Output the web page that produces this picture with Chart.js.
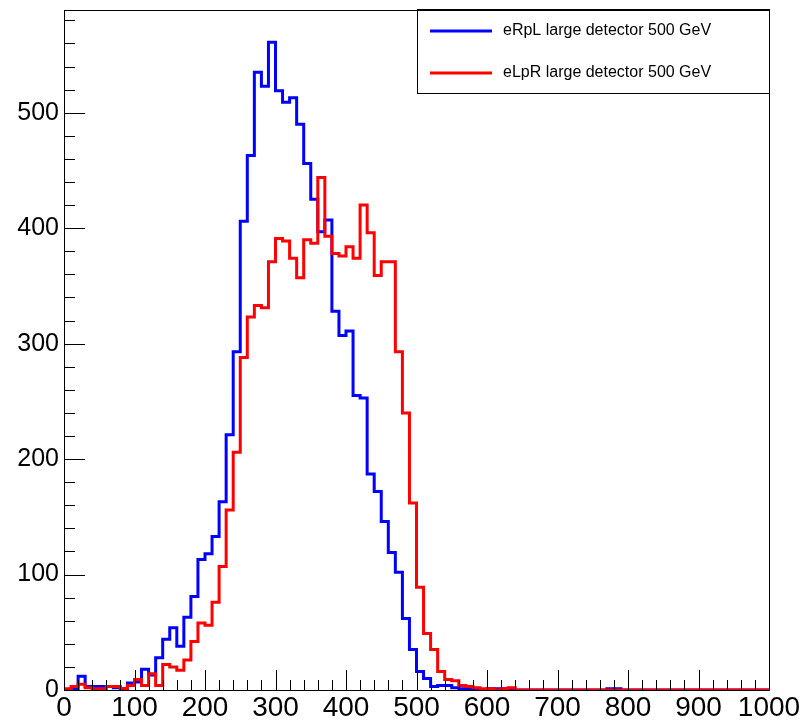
<!DOCTYPE html>
<html>
<head>
<meta charset="utf-8">
<script src="https://cdn.jsdelivr.net/npm/chart.js@4/dist/chart.umd.min.js"></script>
<style>
  html, body { margin: 0; padding: 0; background: #fff; }
</style>
</head>
<body>
<canvas id="chart" width="802" height="723"></canvas>
<script>
// histogram: 100 bins of width 10 from 0 to 1000
const binWidth = 10;
const seriesLabels = ["eRpL large detector 500 GeV", "eLpR large detector 500 GeV"];
const eRpL = [
	0, 1, 12, 3, 3, 3, 3, 2, 1, 6,
	7, 18, 13, 28, 44, 54, 38, 63, 81, 113,
	118, 133, 163, 221, 293, 406, 463, 535, 523, 561,
	519, 509, 513, 490, 456, 425, 397, 407, 328, 307,
	311, 255, 253, 187, 172, 146, 119, 102, 62, 35,
	16, 10, 3, 4, 4, 2, 1, 1, 0, 0,
	1, 1, 1, 0, 0, 0, 0, 0, 0, 0,
	0, 0, 0, 0, 0, 0, 0, 1, 1, 0,
	0, 0, 0, 0, 0, 0, 0, 0, 0, 0,
	0, 0, 0, 0, 0, 0, 0, 0, 0, 0
];
const eLpR = [
	1, 3, 5, 2, 1, 1, 3, 3, 1, 4,
	9, 4, 14, 4, 22, 20, 17, 26, 42, 58,
	56, 76, 107, 156, 206, 288, 323, 333, 331, 371,
	391, 389, 374, 357, 390, 387, 444, 393, 378, 376,
	384, 374, 420, 396, 359, 371, 371, 293, 240, 162,
	89, 49, 35, 16, 9, 8, 4, 3, 2, 1,
	1, 0, 1, 2, 0, 0, 0, 0, 0, 0,
	0, 0, 0, 0, 0, 0, 0, 0, 0, 0,
	0, 0, 0, 0, 0, 0, 0, 0, 0, 0,
	0, 0, 0, 0, 0, 0, 0, 0, 0, 0
];
const xMajorTicks = [0, 100, 200, 300, 400, 500, 600, 700, 800, 900, 1000];
const yMajorTicks = [0, 100, 200, 300, 400, 500];
const minorStep = 20;

function toSteps(values) {
	const pts = values.map((v, i) => ({ x: i * binWidth, y: v }));
	pts.push({ x: values.length * binWidth, y: values[values.length - 1] });
	return pts;
}

const fontFamily = "'Liberation Sans', Arial, Helvetica, sans-serif";

// frame + inward ticks like ROOT
const frameTicks = {
	id: "frameTicks",
	afterDatasetsDraw(chart) {
		const { ctx, chartArea: a, scales: { x, y } } = chart;
		ctx.save();
		ctx.strokeStyle = "#000";
		ctx.lineWidth = 1;
		ctx.strokeRect(a.left + 0.5, a.top + 0.5, a.right - a.left, a.bottom - a.top);
		ctx.beginPath();
		for (let v = 0; v <= 1000; v += minorStep) {
			const px = Math.round(x.getPixelForValue(v)) + 0.5;
			const len = xMajorTicks.includes(v) ? 20 : 10;
			ctx.moveTo(px, a.bottom);
			ctx.lineTo(px, a.bottom - len);
		}
		for (let v = 0; v <= y.max; v += minorStep) {
			const py = Math.round(y.getPixelForValue(v)) + 0.5;
			const len = yMajorTicks.includes(v) ? 21 : 11;
			ctx.moveTo(a.left, py);
			ctx.lineTo(a.left + len, py);
		}
		ctx.stroke();
		ctx.restore();
	},
};

const boxLegend = {
	id: "boxLegend",
	afterDraw(chart) {
		const { ctx } = chart;
		ctx.save();
		ctx.strokeStyle = "#000";
		ctx.lineWidth = 1;
		ctx.strokeRect(417.5, 9.5, 352, 84);
		ctx.font = "16px " + fontFamily;
		ctx.textBaseline = "middle";
		ctx.fillStyle = "#000";
		chart.data.datasets.forEach((ds, i) => {
			const ly = 31 + i * 42;
			ctx.strokeStyle = ds.borderColor;
			ctx.lineWidth = 3;
			ctx.beginPath();
			ctx.moveTo(430, ly);
			ctx.lineTo(492, ly);
			ctx.stroke();
			ctx.fillText(ds.label, 503, ly);
		});
		ctx.restore();
	},
};

const ctx = document.getElementById("chart").getContext("2d");
const myChart = new Chart(ctx, {
	type: "line",
	data: {
		datasets: [
			{
				label: seriesLabels[0],
				data: toSteps(eRpL),
				borderColor: "#0000ff",
				borderWidth: 3,
				stepped: true,
				pointRadius: 0,
				fill: false,
				order: 1,
			},
			{
				label: seriesLabels[1],
				data: toSteps(eLpR),
				borderColor: "#ff0000",
				borderWidth: 3,
				stepped: true,
				pointRadius: 0,
				fill: false,
				order: 0,
			},
		],
	},
	options: {
		responsive: false,
		animation: false,
		devicePixelRatio: 1,
		layout: { padding: { left: 0, right: 33, top: 10, bottom: 0 } },
		plugins: { legend: { display: false }, tooltip: { enabled: false } },
		scales: {
			x: {
				type: "linear",
				min: 0,
				max: 1000,
				grid: { display: false, drawTicks: false },
				border: { display: false },
				ticks: {
					stepSize: 100,
					maxRotation: 0,
					autoSkip: false,
					padding: 1,
					color: "#000",
					font: { size: 28, family: fontFamily },
					callback: (value) => String(value),
				},
				afterFit(scale) {
					scale.height = 33;
					scale.paddingLeft = 0;
					scale.paddingRight = 0;
				},
			},
			y: {
				min: 0,
				max: 589,
				grid: { display: false, drawTicks: false },
				border: { display: false },
				ticks: {
					stepSize: 100,
					includeBounds: false,
					padding: 5,
					color: "#000",
					font: { size: 25, family: fontFamily },
					callback: (value) => String(value),
				},
				afterFit(scale) {
					scale.width = 64;
					scale.paddingTop = 0;
					scale.paddingBottom = 0;
				},
			},
		},
	},
	plugins: [frameTicks, boxLegend],
});
</script>
</body>
</html>
